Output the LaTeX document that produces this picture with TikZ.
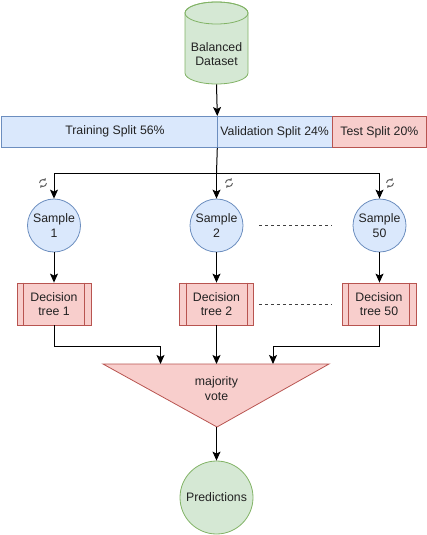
\documentclass[tikz,border=0pt]{standalone}
\usepackage{fontspec}
\setmainfont{Liberation Sans}
\usetikzlibrary{arrows.meta}
\definecolor{bfill}{HTML}{DAE8FC}\definecolor{bdraw}{HTML}{6C8EBF}
\definecolor{rfill}{HTML}{F8CECC}\definecolor{rdraw}{HTML}{B85450}
\definecolor{gfill}{HTML}{D5E8D4}\definecolor{gdraw}{HTML}{82B366}
\definecolor{txt}{HTML}{222222}
\begin{document}
\begin{tikzpicture}[x=1pt,y=-1pt,
  every node/.style={font=\fontsize{12.3}{14.5}\selectfont, text=txt, align=center, inner sep=0pt},
  blue box/.style={draw=bdraw, fill=bfill, line width=0.8pt},
  red box/.style={draw=rdraw, fill=rfill, line width=0.8pt},
  green box/.style={draw=gdraw, fill=gfill, line width=0.8pt},
  samplenode/.style={circle, blue box, minimum size=53pt},
  treebox/.style={rectangle, red box, minimum width=74pt, minimum height=42pt},
  arr/.style={draw=black, line width=1pt, -{Stealth[length=9pt,width=8pt,inset=2pt]}},
  plain/.style={draw=black, line width=1pt},
  dashline/.style={draw=black!75, line width=0.9pt, dash pattern=on 3pt off 3pt},
  recyc/.pic={
    \draw[line width=1pt, black!60, -{Triangle[length=2.2pt,width=3.4pt]}] (3.5,0) arc[start angle=0,end angle=140,radius=3.5];
    \draw[line width=1pt, black!60, -{Triangle[length=2.2pt,width=3.4pt]}] (-3.5,0) arc[start angle=180,end angle=320,radius=3.5];
  }]
\useasboundingbox (0,0) rectangle (427,535);

% Cylinder
\path[green box] (185,13) -- (185,73) arc[start angle=180,end angle=0,x radius=31.5,y radius=11]
  -- (248,13) arc[start angle=0,end angle=-180,x radius=31.5,y radius=11] -- cycle;
\draw[gdraw, line width=0.8pt] (216.5,13) ellipse[x radius=31.5,y radius=11];
\node[minimum width=63pt, minimum height=60pt, anchor=north] (ds) at (216.5,24) {Balanced\\Dataset};

% Split bar
\node[rectangle, blue box, minimum width=216pt, minimum height=31pt, anchor=north west] (train) at (0.5,116) {};
\node at (115,131.5) {Training Split 56\%};
\node[rectangle, blue box, minimum width=115.5pt, minimum height=31pt, anchor=north west] (val) at (216.5,116) {Validation Split 24\%};
\node[rectangle, red box, minimum width=94pt, minimum height=31pt, anchor=north west] (test) at (332,116) {Test Split 20\%};

\draw[arr] (ds.south) -- (train.north east);

% Samples
\node[samplenode] (s1) at (54,225.5) {Sample\\1};
\node[samplenode] (s2) at (216.5,225.5) {Sample\\2};
\node[samplenode] (s50) at (379.5,225.5) {Sample\\50};

\coordinate (split) at (216.5,173);
\draw[plain] (train.south east) -- (split);
\draw[arr] (split) -- (s2.north);
\draw[arr] (split) -| (s1.north);
\draw[arr] (split) -| (s50.north);

\pic at (43,183) {recyc};
\pic at (229,183) {recyc};
\pic at (390,183) {recyc};

% Trees
\node[treebox] (t1) at (54,304) {Decision\\tree 1};
\node[treebox] (t2) at (216.5,304) {Decision\\tree 2};
\node[treebox] (t50) at (379,304) {Decision\\tree 50};
\foreach \t in {t1,t2,t50}{
  \draw[rdraw, line width=0.8pt] ([xshift=7pt]\t.north west) -- ([xshift=7pt]\t.south west);
  \draw[rdraw, line width=0.8pt] ([xshift=-7pt]\t.north east) -- ([xshift=-7pt]\t.south east);
}
\draw[arr] (s1) -- (t1);
\draw[arr] (s2) -- (t2);
\draw[arr] (s50.south) -- (t50.north -| s50.south);

\draw[dashline, shorten <=16pt, shorten >=21pt] (s2.east) -- (s50.west);
\draw[dashline, shorten <=5pt, shorten >=10pt] (t2.east) -- (t50.west);

% Majority vote triangle
\path[red box] (103,364) -- (329,364) -- (217,427) -- cycle;
\node (mv) at (216.5,388.5) {majority\\vote};
\coordinate (mvL) at (160.5,364);
\coordinate (mvC) at (216.5,364);
\coordinate (mvR) at (273,364);
\coordinate (apex) at (216.5,427);

\draw[arr] (t1.south) -- ++(0,21) -| (mvL);
\draw[arr] (t2.south) -- (mvC);
\draw[arr] (t50.south) -- ++(0,21) -| (mvR);

% Predictions
\node[circle, green box, minimum size=73pt] (pred) at (216.5,497.5) {Predictions};
\draw[arr] (apex) -- (pred.north);
\end{tikzpicture}
\end{document}
